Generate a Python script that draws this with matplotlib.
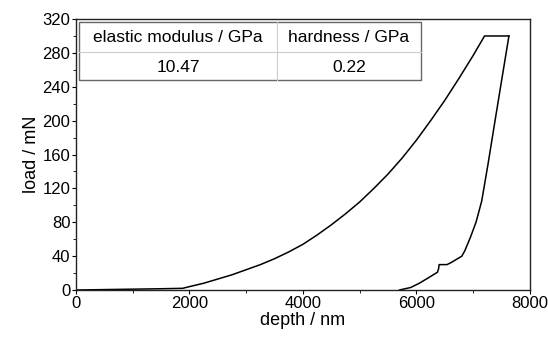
import matplotlib
matplotlib.use("Agg")
import matplotlib.pyplot as plt
from matplotlib.patches import Rectangle
from matplotlib.ticker import MultipleLocator

plt.rcParams['font.family'] = ['Liberation Sans', 'DejaVu Sans']

# loading curve
load_depth = [0, 500, 1000, 1500, 1880, 2000, 2250, 2500, 2750, 3000, 3250, 3500, 3750,
              4000, 4250, 4500, 4750, 5000, 5250, 5500, 5750, 6000, 6250, 6500, 6750,
              7000, 7200, 7630]
load_force = [0, 0.5, 1, 1.5, 2, 4, 8, 13, 18, 24, 30, 37, 45,
              54, 65, 77, 90, 104, 120, 137, 156, 177, 200, 224, 250,
              277, 300, 300]
# unloading curve
unload_depth = [7630, 7500, 7383, 7260, 7150, 7050, 6950, 6850, 6800, 6700, 6600, 6537,
                6400, 6390, 6370, 6200, 6050, 5900, 5700]
unload_force = [300, 247, 199, 148, 105, 80, 62, 46, 40, 36, 32, 30,
                30, 25, 21, 14, 8, 3, 0]

table_headers = ["elastic modulus / GPa", "hardness / GPa"]
table_values = ["10.47", "0.22"]

fig = plt.figure(figsize=(5.48, 3.40), dpi=100)
ax = fig.add_axes([0.1387, 0.147, 0.967 - 0.1387, 0.944 - 0.147])
ax.plot(load_depth, load_force, color='black', lw=1.1)
ax.plot(unload_depth, unload_force, color='black', lw=1.1)

ax.set_xlim(0, 8000)
ax.set_ylim(0, 320)
ax.xaxis.set_major_locator(MultipleLocator(2000))
ax.xaxis.set_minor_locator(MultipleLocator(1000))
ax.yaxis.set_major_locator(MultipleLocator(40))
ax.yaxis.set_minor_locator(MultipleLocator(20))
ax.tick_params(which='major', direction='out', length=3, width=0.8, labelsize=12, pad=1)
ax.tick_params(which='minor', direction='out', length=2, width=0.6)
for s in ax.spines.values():
    s.set_linewidth(1.0)
    s.set_color('#222222')
ax.set_xlabel('depth / nm', fontsize=13, labelpad=1)
ax.set_ylabel('load / mN', fontsize=13, labelpad=2)

# table drawn in pixel-like figure coords
W, H = 548.0, 340.0
def fx(px): return px / W
def fy(py): return 1 - py / H

x0, x1, xm = 79, 421, 277
y0, y1, ym = 22, 80, 52
fig.add_artist(Rectangle((fx(x0), fy(y1)), fx(x1) - fx(x0), fy(y0) - fy(y1),
                         transform=fig.transFigure, fill=True, facecolor='white',
                         edgecolor='#666666', lw=1.0, zorder=5))
fig.add_artist(plt.Line2D([fx(xm), fx(xm)], [fy(y0), fy(y1)], transform=fig.transFigure,
                          color='#cccccc', lw=0.8, zorder=6))
fig.add_artist(plt.Line2D([fx(x0), fx(x1)], [fy(ym), fy(ym)], transform=fig.transFigure,
                          color='#cccccc', lw=0.8, zorder=6))
cx = [(x0 + xm) / 2, (xm + x1) / 2]
for i in range(2):
    fig.text(fx(cx[i]), fy((y0 + ym) / 2 + 1), table_headers[i], ha='center', va='center',
             fontsize=12.5, zorder=7)
    fig.text(fx(cx[i]), fy((ym + y1) / 2 + 1), table_values[i], ha='center', va='center',
             fontsize=12.5, zorder=7)

fig.savefig('out.png', dpi=100)
